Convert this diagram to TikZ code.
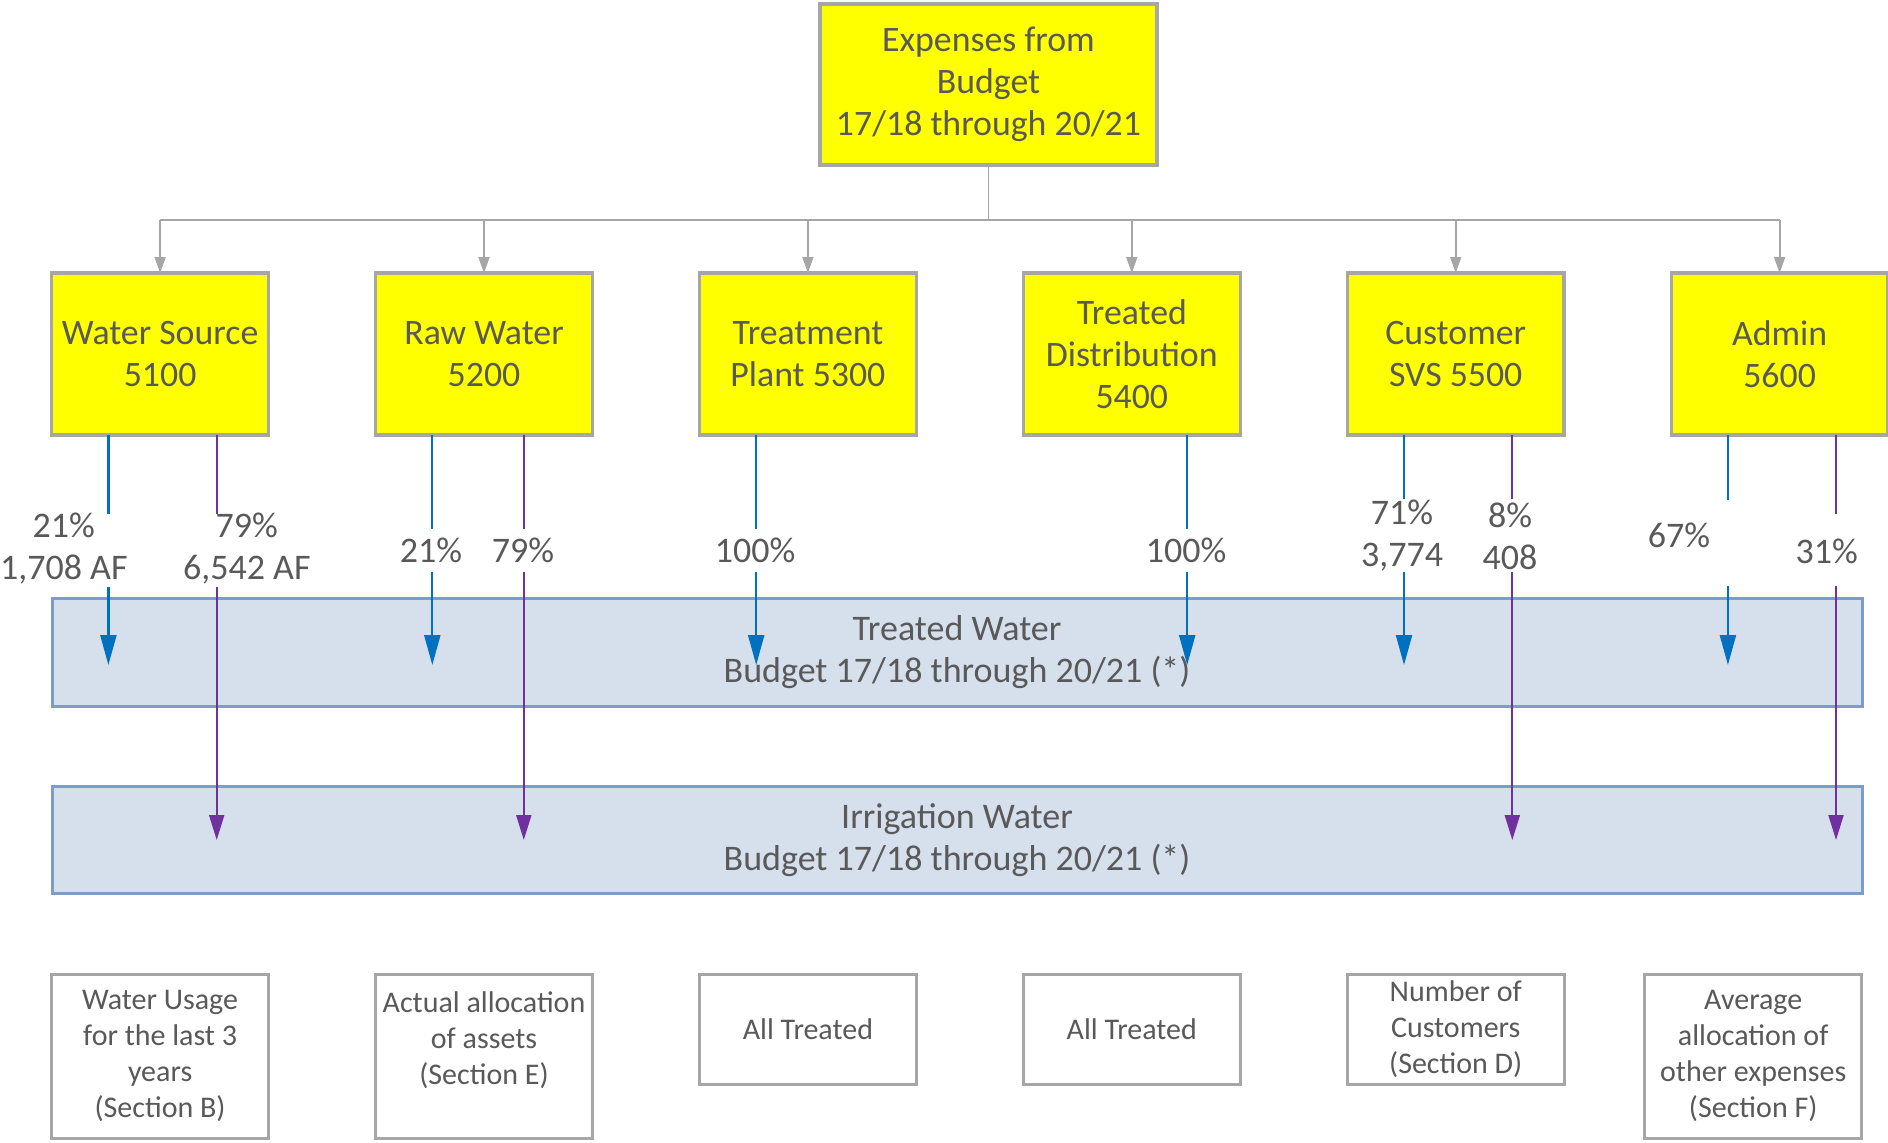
\documentclass[tikz,border=0pt]{standalone}
\usepackage{fontspec}
\setmainfont{Carlito}
\usetikzlibrary{arrows.meta,shadows}
\definecolor{txt}{HTML}{595959}
\definecolor{bord}{HTML}{A6A6A6}
\definecolor{ylw}{HTML}{FFFF00}
\definecolor{bandfill}{HTML}{D6DFEC}
\definecolor{bandbord}{HTML}{7E9CC9}
\definecolor{wblue}{HTML}{0070C0}
\definecolor{wpurp}{HTML}{7030A0}
\begin{document}
\begin{tikzpicture}[x=0.5pt,y=-0.5pt,
  every node/.style={text=txt, inner sep=0pt, outer sep=0pt},
  shad/.style={drop shadow={shadow xshift=0.8pt, shadow yshift=-1.2pt, opacity=0.35, fill=black!60}},
  ybox/.style={shad, draw=bord, line width=1.6pt, fill=ylw, align=center,
    font=\fontsize{17.9}{21}\selectfont, minimum width=108.35pt, minimum height=81pt},
  wbox/.style={shad, draw=bord, line width=1.5pt, fill=white, align=center,
    font=\fontsize{15}{18}\selectfont, minimum width=108.35pt},
  band/.style={draw=bandbord, line width=1.5pt, fill=bandfill, align=center,
    font=\fontsize{18}{21}\selectfont, minimum width=905pt},
  lbl/.style={align=center, font=\fontsize{18}{21}\selectfont},
  gline/.style={draw=bord, line width=0.9pt},
  garrow/.style={gline, -{Triangle[width=5.5pt,length=8pt]}},
  bline/.style={draw=wblue, line width=1.1pt},
  barrow/.style={bline, -{Triangle[width=8pt,length=15pt]}},
  pline/.style={draw=wpurp, line width=1pt},
  parrow/.style={pline, -{Triangle[width=7.5pt,length=12.5pt]}}
]
\useasboundingbox (0,0) rectangle (1888,1142);

% bands
\node[band, minimum height=54pt] (tw) at (957,652) {Treated Water\\Budget 17/18 through 20/21 (*)};
\node[band, minimum height=53.25pt] (iw) at (957,840) {Irrigation Water\\Budget 17/18 through 20/21 (*)};

% top box
\node[ybox, minimum width=168.5pt, minimum height=80.5pt] (top) at (988.5,84.5) {Expenses from\\Budget\\17/18 through 20/21};

% department boxes
\node[ybox] (ws) at (160.1,354) {Water Source\\5100};
\node[ybox] (rw) at (484.0,354) {Raw Water\\5200};
\node[ybox] (tp) at (807.9,354) {Treatment\\Plant 5300};
\node[ybox] (td) at (1131.8,354) {Treated\\Distribution\\5400};
\node[ybox] (cs) at (1455.7,354) {Customer\\SVS 5500};
\node[ybox] (ad) at (1779.6,354) {Admin\\5600};

% tree connectors
\coordinate (bus) at (0,220);
\draw[gline] (top.south) -- (top.south |- bus);
\draw[gline] (ws.north |- bus) -- (ad.north |- bus);
\foreach \n in {ws,rw,tp,td,cs,ad}{
  \draw[garrow] (\n.north |- bus) -- (\n.north);
}

% labels
\node[lbl] (l1) at (63.8,548.5) {21\%\\1,708 AF};
\node[lbl] (l2) at (246.8,548.5) {79\%\\6,542 AF};
\node[lbl] (l3) at (431,550) {21\%};
\node[lbl] (l4) at (523,550) {79\%};
\node[lbl] (l5) at (755,550) {100\%};
\node[lbl] (l6) at (1186,550) {100\%};
\node[lbl] (l7) at (1402,536) {71\%\\3,774};
\node[lbl] (l8) at (1510,536) {8\%\\408};
\node[lbl] (l9) at (1679,535) {67\%};
\node[lbl] (l10) at (1826.6,551) {31\%};

% break / tip coordinates
% Water Source
\coordinate (wsB1) at (108.4,514); \coordinate (wsB2) at (108.4,587); \coordinate (wsB3) at (108.4,665);
\coordinate (wsP1) at (216.7,514); \coordinate (wsP2) at (216.7,587); \coordinate (wsP3) at (216.7,840);
% Raw Water
\coordinate (rwB1) at (432.3,529); \coordinate (rwB2) at (432.3,572); \coordinate (rwB3) at (432.3,665);
\coordinate (rwP1) at (523.8,529); \coordinate (rwP2) at (523.8,572); \coordinate (rwP3) at (523.8,840);
% Treatment Plant
\coordinate (tpB1) at (756.2,529); \coordinate (tpB2) at (756.2,572); \coordinate (tpB3) at (756.2,665);
% Treated Distribution
\coordinate (tdB1) at (1187.2,529); \coordinate (tdB2) at (1187.2,572); \coordinate (tdB3) at (1187.2,665);
% Customer
\coordinate (csB1) at (1404,499); \coordinate (csB2) at (1404,572); \coordinate (csB3) at (1404,665);
\coordinate (csP1) at (1512.3,499); \coordinate (csP2) at (1512.3,572); \coordinate (csP3) at (1512.3,840);
% Admin
\coordinate (adB1) at (1727.9,500); \coordinate (adB2) at (1727.9,586); \coordinate (adB3) at (1727.9,665);
\coordinate (adP1) at (1836,514); \coordinate (adP2) at (1836,586); \coordinate (adP3) at (1836,840);

\draw[bline] (ws.south -| wsB1) -- (wsB1); \draw[barrow] (wsB2) -- (wsB3);
\draw[pline] (ws.south -| wsP1) -- (wsP1); \draw[parrow] (wsP2) -- (wsP3);
\draw[bline] (rw.south -| rwB1) -- (rwB1); \draw[barrow] (rwB2) -- (rwB3);
\draw[pline] (rw.south -| rwP1) -- (rwP1); \draw[parrow] (rwP2) -- (rwP3);
\draw[bline] (tp.south -| tpB1) -- (tpB1); \draw[barrow] (tpB2) -- (tpB3);
\draw[bline] (td.south -| tdB1) -- (tdB1); \draw[barrow] (tdB2) -- (tdB3);
\draw[bline] (cs.south -| csB1) -- (csB1); \draw[barrow] (csB2) -- (csB3);
\draw[pline] (cs.south -| csP1) -- (csP1); \draw[parrow] (csP2) -- (csP3);
\draw[bline] (ad.south -| adB1) -- (adB1); \draw[barrow] (adB2) -- (adB3);
\draw[pline] (ad.south -| adP1) -- (adP1); \draw[parrow] (adP2) -- (adP3);

% bottom explanation boxes
\node[wbox, minimum height=82pt] (b1) at (160.1,1056) {Water Usage\\for the last 3\\years\\(Section B)};
\node[wbox, minimum height=82pt] (b2) at (484.0,1056) {Actual allocation\\of assets\\(Section E)\\\mbox{}};
\node[wbox, minimum height=55pt] (b3) at (807.9,1029) {All Treated};
\node[wbox, minimum height=55pt] (b4) at (1131.8,1029) {All Treated};
\node[wbox, minimum height=55pt] (b5) at (1455.7,1029) {Number of\\Customers\\(Section D)};
\node[wbox, minimum height=82pt] (b6) at (1753.2,1056) {Average\\allocation of\\other expenses\\(Section F)};
\end{tikzpicture}
\end{document}
